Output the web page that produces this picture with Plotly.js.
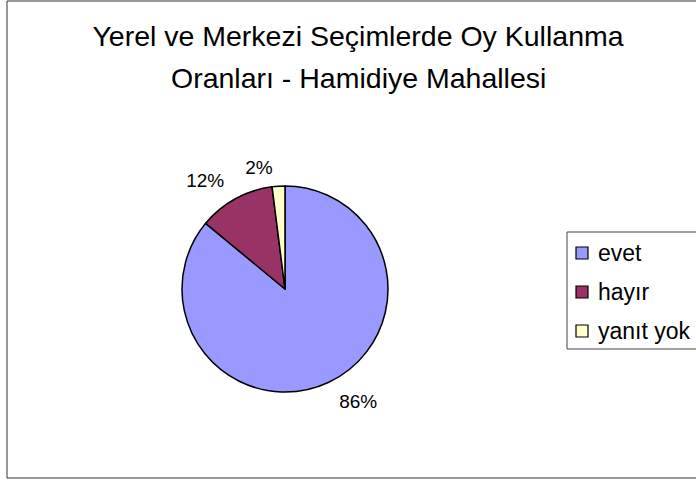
<!DOCTYPE html>
<html>
<head>
<meta charset="utf-8">
<script src="https://cdn.plot.ly/plotly-3.0.1.min.js"></script>
<style>html,body{margin:0;padding:0;background:#fff;}#chart{width:696px;height:480px;}</style>
</head>
<body>
<div id="chart"></div>
<script>
var categories = ["evet", "hayır", "yanıt yok"];
var values = [86, 12, 2];
var sliceColors = ["#9999FF", "#993366", "#FFFFCC"];
var titleLine1 = "Yerel ve Merkezi Seçimlerde Oy Kullanma";
var titleLine2 = "Oranları - Hamidiye Mahallesi";

var W = 696, H = 480;
var FONT = "Liberation Sans, Arial, sans-serif";
function px(x){ return x / W; }
function py(y){ return 1 - y / H; }
var CX = 285, CY = 289, R = 103;
function domainFor(r){ return { x: [px(CX - r), px(CX + r)], y: [py(CY + r), py(CY - r)] }; }

var pctTpl = "%{percent:.0%}";

// visible pie
var pieMain = {
  type: "pie", labels: categories, values: values,
  sort: false, direction: "clockwise", rotation: 0,
  marker: { colors: sliceColors, line: { color: "#000000", width: 1.5 } },
  textposition: "none", domain: domainFor(R),
  hoverinfo: "skip", showlegend: false
};
// transparent label carriers (same data), used only to place the percent labels outside
function labelPie(r, showIdx) {
  return {
    type: "pie", labels: categories, values: values,
    sort: false, direction: "clockwise", rotation: 0,
    marker: { colors: categories.map(function(){ return "rgba(0,0,0,0)"; }), line: { width: 0 } },
    textposition: "outside",
    texttemplate: categories.map(function(c, i){ return showIdx.indexOf(i) >= 0 ? pctTpl : ""; }),
    textfont: { family: FONT, size: 19, color: "#000" },
    domain: domainFor(r), hoverinfo: "skip", showlegend: false, automargin: false
  };
}
var pieLabelsA = labelPie(115, [0, 1]);
var pieLabelsB = labelPie(111, [2]);

// manual legend built from the category / colour arrays
var legendRowsY = [253, 292, 331];
var shapes = [
  { type: "rect", xref: "paper", yref: "paper",
    x0: px(7), x1: px(720), y0: py(478), y1: py(1),
    line: { color: "#333333", width: 1 }, fillcolor: "rgba(0,0,0,0)", layer: "below" },
  { type: "rect", xref: "paper", yref: "paper",
    x0: px(567), x1: px(720), y0: py(349), y1: py(232),
    line: { color: "#444444", width: 1 }, fillcolor: "#ffffff", layer: "below" }
];
var annotations = [];
categories.forEach(function(c, i){
  var yc = legendRowsY[i];
  shapes.push({ type: "rect", xref: "paper", yref: "paper",
    x0: px(576), x1: px(588), y0: py(yc + 6), y1: py(yc - 6),
    line: { color: "#000000", width: 1.2 }, fillcolor: sliceColors[i] });
  annotations.push({ xref: "paper", yref: "paper", x: px(596), y: py(yc),
    xanchor: "left", yanchor: "middle", showarrow: false, text: c,
    font: { family: FONT, size: 23, color: "#000" } });
});
annotations.push({ xref: "paper", yref: "paper", x: px(358), y: py(78),
  xanchor: "center", yanchor: "middle", showarrow: false, text: titleLine2,
  font: { family: FONT, size: 28.5, color: "#000" } });

var layout = {
  width: W, height: H,
  margin: { l: 0, r: 0, t: 0, b: 0 },
  paper_bgcolor: "#ffffff", plot_bgcolor: "#ffffff",
  font: { family: FONT, color: "#000" },
  title: {
    text: titleLine1,
    font: { family: FONT, size: 28.5, color: "#000" },
    x: px(358), xanchor: "center", y: py(36), yanchor: "middle",
    xref: "paper", yref: "paper"
  },
  showlegend: false,
  shapes: shapes,
  annotations: annotations
};

Plotly.newPlot("chart", [pieMain, pieLabelsA, pieLabelsB], layout, { displayModeBar: false, staticPlot: true });
</script>
</body>
</html>
